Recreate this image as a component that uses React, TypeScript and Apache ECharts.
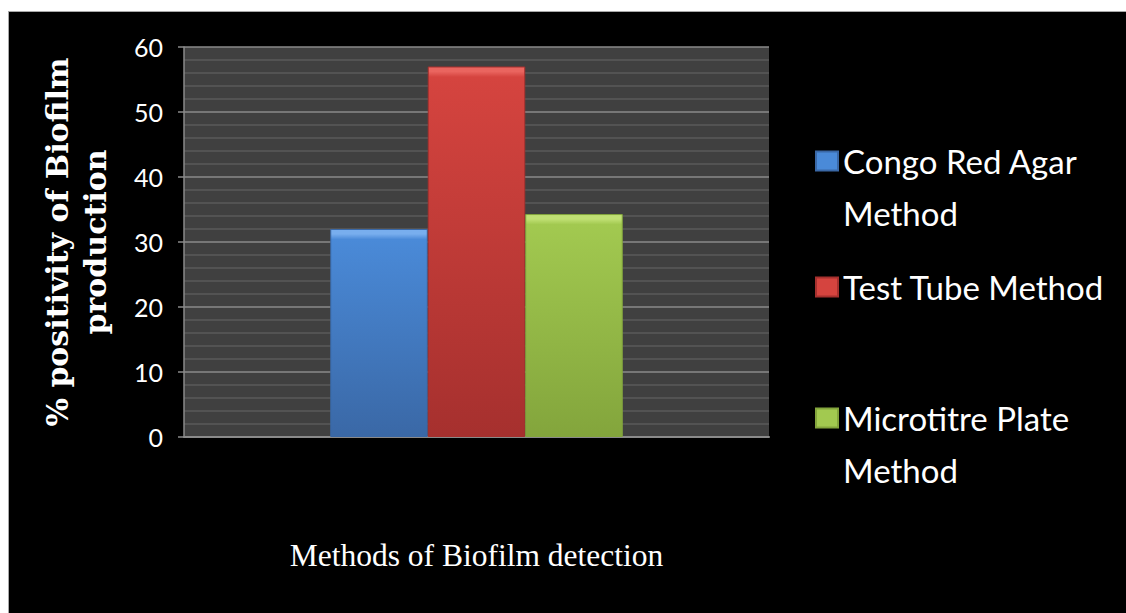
import React, { useEffect, useRef } from "react";
import * as echarts from "echarts";

const categories = [""];
const seriesNames = ["Congo Red Agar Method", "Test Tube Method", "Microtitre Plate Method"];
const seriesValues = [32, 57, 34.3];
const legendLabels = ["Congo Red Agar\nMethod", "Test Tube Method", "Microtitre Plate\nMethod"];
const yMin = 0;
const yMax = 60;
const yInterval = 10;
const yAxisTitle = "% positivity of Biofilm\nproduction";
const xAxisTitle = "Methods of Biofilm detection";

const barColors = [
  ["#78aeee", "#4a8ad8", "#3a68a6"],
  ["#ea655f", "#d5443f", "#a6302e"],
  ["#c0e074", "#a2c950", "#83a53c"],
];

export default function App() {
  const ref = useRef<HTMLDivElement>(null);
  useEffect(() => {
    if (!ref.current) return;
    const chart = echarts.init(ref.current, undefined, { renderer: "svg" });
    const plotHeight = 390;
    const grad = (c: string[], v: number) => {
      const barPx = (v / (yMax - yMin)) * plotHeight;
      const b = Math.min(0.2, 10 / barPx);
      return new echarts.graphic.LinearGradient(0, 0, 0, 1, [
        { offset: 0, color: c[0] },
        { offset: b * 0.45, color: c[0] },
        { offset: b, color: c[1] },
        { offset: 1, color: c[2] },
      ]);
    };
    const legendTops = [71, 249, 328];
    const legends = seriesNames.map((name, i) => {
      const twoLine = legendLabels[i].indexOf("\n") >= 0;
      return {
        orient: "vertical",
        left: 806,
        top: legendTops[i],
        padding: 0,
        itemWidth: 22,
        itemHeight: 19,
        icon: "rect",
        data: [name],
        itemStyle: { color: barColors[i][1] },
        formatter: () => (twoLine ? " \n" + legendLabels[i] : legendLabels[i]),
        textStyle: {
          color: "#ffffff",
          fontFamily: "Lato",
          fontSize: 33,
          lineHeight: 52,
        },
      };
    });
    chart.setOption({
      animation: false,
      backgroundColor: "#000000",
      grid: {
        left: 175,
        top: 35,
        width: 585,
        height: plotHeight,
        show: true,
        backgroundColor: "#404040",
        borderWidth: 0,
      },
      legend: legends,
      xAxis: {
        type: "category",
        data: categories,
        name: xAxisTitle,
        nameLocation: "middle",
        nameGap: 102,
        nameTextStyle: {
          color: "#ffffff",
          fontFamily: "Liberation Serif",
          fontSize: 31.5,
        },
        axisLine: { show: true, lineStyle: { color: "#8a8a8a", width: 2 } },
        axisTick: { show: false },
        axisLabel: { show: false },
      },
      yAxis: {
        type: "value",
        min: yMin,
        max: yMax,
        interval: yInterval,
        name: yAxisTitle,
        nameLocation: "middle",
        nameRotate: 90,
        nameGap: 70,
        nameTextStyle: {
          color: "#ffffff",
          fontFamily: "DejaVu Serif",
          fontWeight: "bold",
          fontSize: 30,
          lineHeight: 38,
        },
        axisLine: { show: true, lineStyle: { color: "#8a8a8a", width: 1.5 } },
        axisTick: { show: true, length: 6, lineStyle: { color: "#8a8a8a", width: 1.5 } },
        axisLabel: {
          color: "#ffffff",
          fontFamily: "Lato",
          fontSize: 25,
          margin: 21,
        },
        splitLine: { show: true, lineStyle: { color: "#8a8a8a", width: 1.5 } },
        minorTick: { show: false, splitNumber: 5 },
        minorSplitLine: { show: true, lineStyle: { color: "#5a5a5a", width: 1.5 } },
      },
      series: seriesNames.map((name, i) => ({
        type: "bar",
        name,
        data: [seriesValues[i]],
        barGap: "0%",
        barCategoryGap: "50%",
        itemStyle: {
          color: grad(barColors[i], seriesValues[i]),
          borderColor: barColors[i][2],
          borderWidth: 1,
        },
      })),
    });
    return () => chart.dispose();
  }, []);
  return (
    <div
      style={{
        position: "fixed",
        left: 8,
        top: 11,
        width: 1118,
        height: 602,
        borderTop: "1px solid #a8a8a8",
        borderLeft: "1px solid #a8a8a8",
        background: "#000",
      }}
    >
      <div ref={ref} style={{ width: 1117, height: 601 }} />
    </div>
  );
}
